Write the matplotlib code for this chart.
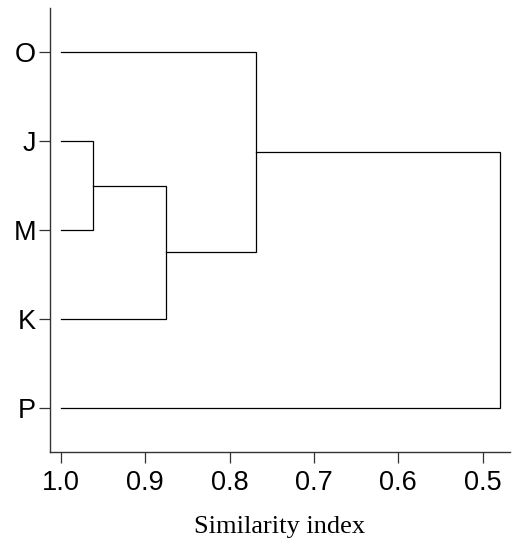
import numpy as np
import matplotlib.pyplot as plt

# leaves, top to bottom
leaf_labels = ['O', 'J', 'M', 'K', 'P']
# merges: (left cluster, right cluster, similarity); clusters 0..4 are leaves,
# new clusters get ids 5, 6, ...
merge_left = [1, 5, 0, 7]
merge_right = [2, 3, 6, 4]
merge_sim = [0.962, 0.875, 0.769, 0.480]
x_ticks = [1.0, 0.9, 0.8, 0.7, 0.6, 0.5]


def drawDendrogram(ax, n_leaves, left, right, sim):
    # position and height of every cluster
    ypos = list(np.arange(n_leaves, dtype='float64'))
    height = [1.0] * n_leaves
    for a, b, s in zip(left, right, sim):
        ax.plot([height[a], s, s, height[b]], [ypos[a], ypos[a], ypos[b], ypos[b]],
                color='black', lw=0.9, solid_joinstyle='miter')
        ypos.append((ypos[a] + ypos[b]) / 2)
        height.append(s)


fig = plt.figure(figsize=(5.2, 5.48), dpi=100)
ax = fig.add_axes([50/520, 1 - 452/548, 460/520, 444/548])

drawDendrogram(ax, len(leaf_labels), merge_left, merge_right, merge_sim)

ax.set_xlim(1.013, 0.4676)
ax.set_ylim(len(leaf_labels) - 0.5, -0.5)

ax.set_yticks(np.arange(len(leaf_labels)))
ax.set_yticklabels(leaf_labels, family='Liberation Sans', fontsize=19.5)
ax.set_xticks(x_ticks)
ax.set_xticklabels(['%.1f' % v for v in x_ticks], family='Liberation Sans', fontsize=19.5)
ax.tick_params(axis='both', direction='out', length=8, width=0.9, color='#333333')
ax.tick_params(axis='x', pad=5)
ax.tick_params(axis='y', pad=2)

for side in ['top', 'right']:
    ax.spines[side].set_visible(False)
for side in ['left', 'bottom']:
    ax.spines[side].set_linewidth(1.0)
    ax.spines[side].set_color('#333333')

ax.set_xlabel('Similarity index', family='Liberation Serif', fontsize=19, labelpad=14)

fig.savefig('out.png', dpi=100)
